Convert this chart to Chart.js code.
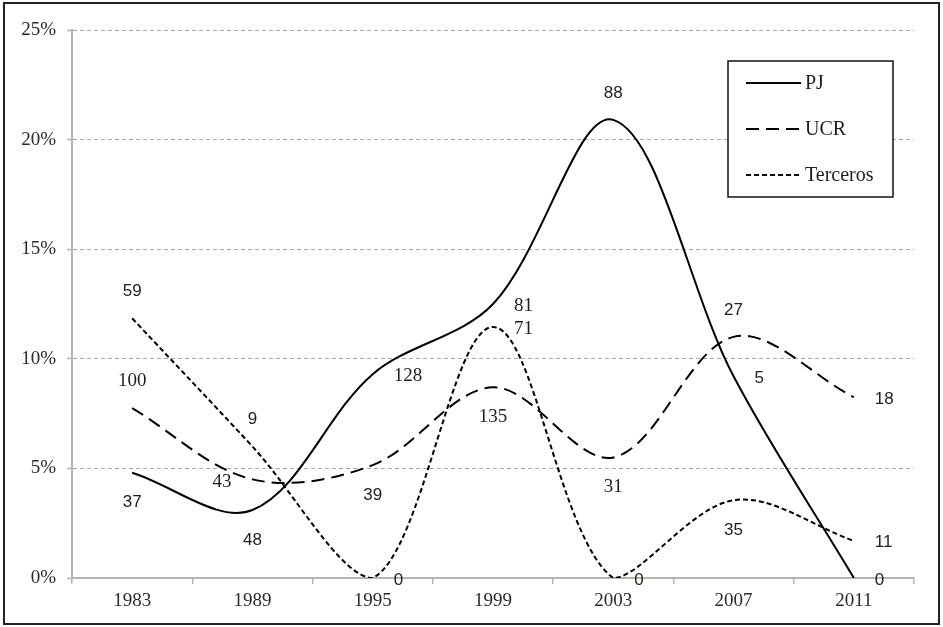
<!DOCTYPE html>
<html>
<head>
<meta charset="utf-8">
<script src="https://cdn.jsdelivr.net/npm/chart.js@4"></script>
<style>
  html, body { margin: 0; padding: 0; background: #fff; }
  #wrap { width: 943px; height: 627px; position: relative; }
</style>
</head>
<body>
<div id="wrap"><canvas id="chart" width="943" height="627"></canvas></div>
<script>
// Categories
const years = ['1983', '1989', '1995', '1999', '2003', '2007', '2011'];

// Share (%) per party
const pjShare       = [4.8, 3.1, 9.3, 12.5, 20.9, 9.2, 0];
const ucrShare      = [7.75, 4.5, 5.15, 8.7, 5.5, 11.0, 8.25];
const tercerosShare = [11.85, 6.0, 0, 11.45, 0, 3.55, 1.7];

// Counts written next to each point
const pjCount       = [37, 48, 128, 81, 88, 5, 0];
const ucrCount      = [100, 43, 39, 135, 31, 27, 18];
const tercerosCount = [59, 9, 0, 71, 0, 35, 11];

// Where each count sits relative to its point, and which face it uses
const pjLabelPos       = ['below', 'below', 'right', 'right', 'above', 'right', 'right'];
const ucrLabelPos      = ['above', 'left', 'below', 'below', 'below', 'above', 'right'];
const tercerosLabelPos = ['above', 'above', 'right', 'right', 'right', 'below', 'right'];
const pjLabelFace       = ['sans', 'sans', 'serif', 'serif', 'sans', 'sans', 'sans'];
const ucrLabelFace      = ['serif', 'serif', 'sans', 'serif', 'serif', 'sans', 'sans'];
const tercerosLabelFace = ['sans', 'sans', 'sans', 'serif', 'sans', 'sans', 'sans'];

const SERIF = '"Liberation Serif", "DejaVu Serif", serif';
const SANS = '"Liberation Sans", Arial, sans-serif';
const AXIS_GRAY = '#b7b4ae';

// Count labels drawn beside the points
const countLabels = {
    id: 'countLabels',
    afterDatasetsDraw(chart) {
        const ctx = chart.ctx;
        ctx.save();
        ctx.fillStyle = '#1e1e1e';
        chart.data.datasets.forEach((ds, i) => {
            const meta = chart.getDatasetMeta(i);
            meta.data.forEach((pt, j) => {
                const pos = ds.labelPos[j];
                const face = ds.labelFace[j] === 'serif' ? '19px ' + SERIF : '17px ' + SANS;
                ctx.font = face;
                ctx.textBaseline = 'middle';
                let x = pt.x, y = pt.y;
                if (pos === 'above') { ctx.textAlign = 'center'; y -= 27; }
                else if (pos === 'below') { ctx.textAlign = 'center'; y += 30; }
                else if (pos === 'right') { ctx.textAlign = 'left'; x += 21; y += 2; }
                else { ctx.textAlign = 'right'; x -= 21; y += 3; }
                ctx.fillText(String(ds.counts[j]), x, y);
            });
        });
        ctx.restore();
    }
};

// Boxed legend inside the plot plus the outer frame
const boxLegend = {
    id: 'boxLegend',
    afterDraw(chart) {
        const ctx = chart.ctx;
        const area = chart.chartArea;
        ctx.save();
        // outer frame
        ctx.strokeStyle = '#222';
        ctx.lineWidth = 2;
        ctx.strokeRect(4, 3, 935, 621);

        const bx = area.right - 186, by = area.top + 31, bw = 165, bh = 136;
        ctx.fillStyle = '#fff';
        ctx.fillRect(bx, by, bw, bh);
        ctx.lineWidth = 1.5;
        ctx.strokeStyle = '#111';
        ctx.strokeRect(bx, by, bw, bh);

        chart.data.datasets.forEach((ds, i) => {
            const y = by + 22 + i * 46;
            ctx.beginPath();
            ctx.setLineDash(ds.borderDash || []);
            ctx.lineWidth = 2;
            ctx.strokeStyle = '#000';
            ctx.moveTo(bx + 18, y);
            ctx.lineTo(bx + 73, y);
            ctx.stroke();
            ctx.setLineDash([]);
            ctx.fillStyle = '#1e1e1e';
            ctx.font = '20px ' + SERIF;
            ctx.textAlign = 'left';
            ctx.textBaseline = 'middle';
            ctx.fillText(ds.label, bx + 77, y + 1);
        });
        ctx.restore();
    }
};

new Chart(document.getElementById('chart'), {
    type: 'line',
    data: {
        labels: years,
        datasets: [
            {
                label: 'PJ',
                data: pjShare,
                counts: pjCount,
                labelPos: pjLabelPos,
                labelFace: pjLabelFace,
                borderColor: '#000',
                borderWidth: 2,
                borderDash: []
            },
            {
                label: 'UCR',
                data: ucrShare,
                counts: ucrCount,
                labelPos: ucrLabelPos,
                labelFace: ucrLabelFace,
                borderColor: '#000',
                borderWidth: 2,
                borderDash: [13, 7]
            },
            {
                label: 'Terceros',
                data: tercerosShare,
                counts: tercerosCount,
                labelPos: tercerosLabelPos,
                labelFace: tercerosLabelFace,
                borderColor: '#000',
                borderWidth: 2,
                borderDash: [5, 3]
            }
        ]
    },
    options: {
        responsive: false,
        animation: false,
        devicePixelRatio: 1,
        layout: { padding: { left: 0, top: 30, right: 29, bottom: 0 } },
        elements: {
            point: { radius: 0, hoverRadius: 0 },
            line: { tension: 0.34, fill: false }
        },
        plugins: {
            legend: { display: false },
            tooltip: { enabled: false }
        },
        scales: {
            x: {
                offset: true,
                afterFit(scale) { scale.height = 49; },
                grid: {
                    offset: true,
                    drawOnChartArea: false,
                    drawTicks: true,
                    tickLength: 6,
                    color: AXIS_GRAY,
                    tickColor: AXIS_GRAY,
                    lineWidth: 1.5
                },
                border: { color: AXIS_GRAY, width: 2 },
                ticks: {
                    color: '#2a2a2a',
                    font: { family: SERIF, size: 19 },
                    padding: 6,
                    maxRotation: 0
                }
            },
            y: {
                min: 0,
                max: 25,
                afterFit(scale) { scale.width = 72; },
                grid: {
                    color: '#a8a8a8',
                    lineWidth: 1,
                    drawTicks: true,
                    tickLength: 5,
                    tickColor: AXIS_GRAY,
                    tickWidth: 1.5,
                    tickBorderDash: []
                },
                border: { color: AXIS_GRAY, width: 2, dash: [4, 3] },
                ticks: {
                    stepSize: 5,
                    color: '#2a2a2a',
                    font: { family: SERIF, size: 19 },
                    padding: 11,
                    callback: v => v + '%'
                }
            }
        }
    },
    plugins: [countLabels, boxLegend]
});
</script>
</body>
</html>
